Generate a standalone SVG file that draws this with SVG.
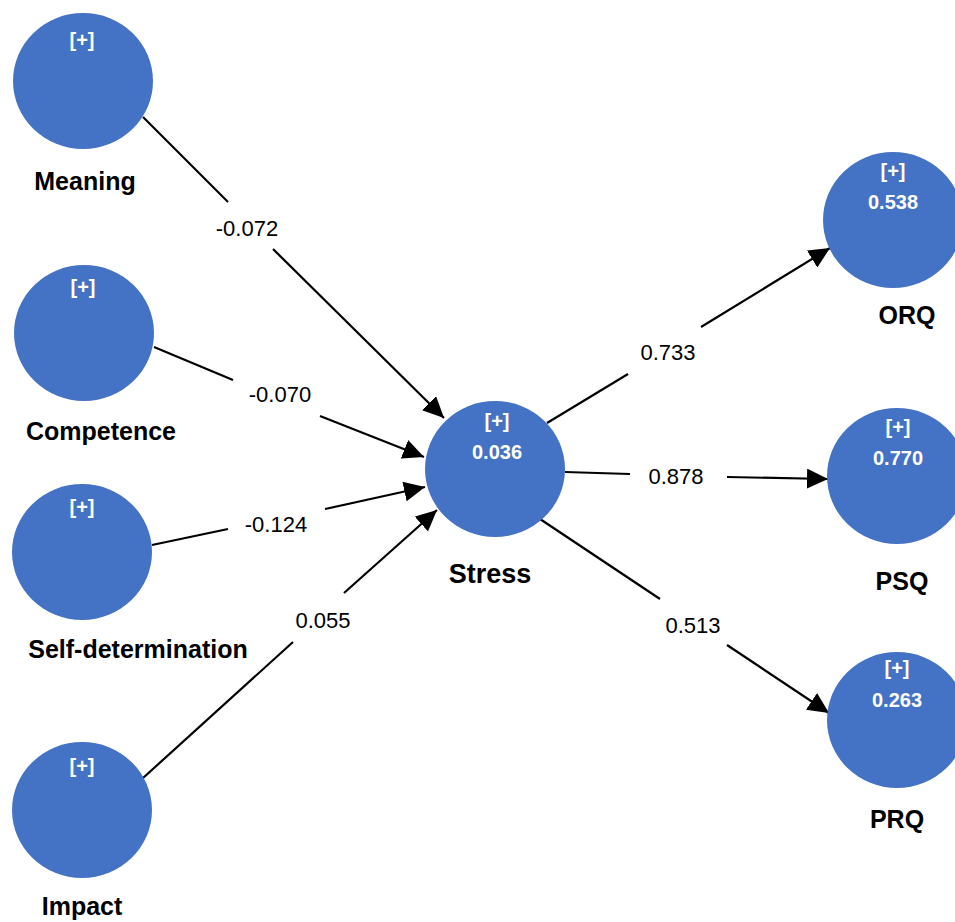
<svg xmlns="http://www.w3.org/2000/svg" width="955" height="922" viewBox="0 0 955 922">
  <style>
    .node { fill: #4472C4; }
    .lbl { font-family: "Liberation Sans", Arial, sans-serif; font-weight: bold; font-size: 25px; fill: #000; text-anchor: middle; }
    .big { font-size: 27px; }
    .in { font-family: "Liberation Sans", Arial, sans-serif; font-weight: bold; font-size: 20px; fill: #fff; text-anchor: middle; }
    .edge { stroke: #000; stroke-width: 2.2; fill: none; }
    .w { font-family: "Liberation Sans", Arial, sans-serif; font-size: 22px; fill: #000; text-anchor: middle; }
  </style>
  <defs>
    <marker id="arr" markerUnits="userSpaceOnUse" markerWidth="22" markerHeight="20" refX="21" refY="10" orient="auto">
      <path d="M0,0 L21,10 L0,20 z" fill="#000"/>
    </marker>
  </defs>
  <rect width="955" height="922" fill="#fff"/>

  <g id="connectors">
    <line class="edge" x1="143" y1="117" x2="228" y2="202"/>
    <line class="edge" x1="273" y1="249" x2="444" y2="418" marker-end="url(#arr)"/>
    <text class="w" x="247" y="236">-0.072</text>

    <line class="edge" x1="154" y1="347" x2="233" y2="380"/>
    <line class="edge" x1="320" y1="416" x2="424" y2="457" marker-end="url(#arr)"/>
    <text class="w" x="280" y="402">-0.070</text>

    <line class="edge" x1="152" y1="545" x2="228" y2="529"/>
    <line class="edge" x1="325" y1="509" x2="425" y2="487" marker-end="url(#arr)"/>
    <text class="w" x="276" y="532">-0.124</text>

    <line class="edge" x1="143" y1="778" x2="293" y2="642"/>
    <line class="edge" x1="344" y1="593" x2="437" y2="510" marker-end="url(#arr)"/>
    <text class="w" x="323" y="628">0.055</text>

    <line class="edge" x1="547" y1="423" x2="628" y2="374"/>
    <line class="edge" x1="701" y1="327" x2="830" y2="248" marker-end="url(#arr)"/>
    <text class="w" x="668" y="360">0.733</text>

    <line class="edge" x1="565" y1="472" x2="630" y2="474"/>
    <line class="edge" x1="727" y1="477" x2="828" y2="479" marker-end="url(#arr)"/>
    <text class="w" x="676" y="484">0.878</text>

    <line class="edge" x1="540" y1="519" x2="660" y2="599"/>
    <line class="edge" x1="727" y1="645" x2="829" y2="713" marker-end="url(#arr)"/>
    <text class="w" x="693" y="633">0.513</text>
  </g>

  <g id="meaning">
    <ellipse class="node" cx="83" cy="81" rx="70" ry="68"/>
    <text class="in" x="82" y="47">[+]</text>
    <text class="lbl" x="85" y="190">Meaning</text>
  </g>
  <g id="competence">
    <ellipse class="node" cx="84" cy="333" rx="70" ry="68"/>
    <text class="in" x="83" y="294">[+]</text>
    <text class="lbl" x="101" y="440">Competence</text>
  </g>
  <g id="self-determination">
    <ellipse class="node" cx="82" cy="552" rx="70" ry="68"/>
    <text class="in" x="82" y="514">[+]</text>
    <text class="lbl" x="138" y="658">Self-determination</text>
  </g>
  <g id="impact">
    <ellipse class="node" cx="82" cy="810" rx="70" ry="68"/>
    <text class="in" x="82" y="773">[+]</text>
    <text class="lbl" x="82" y="915">Impact</text>
  </g>
  <g id="stress">
    <ellipse class="node" cx="495" cy="469" rx="70" ry="68"/>
    <text class="in" x="497" y="428">[+]</text>
    <text class="in" x="497" y="459">0.036</text>
    <text class="lbl big" x="490" y="583">Stress</text>
  </g>
  <g id="orq">
    <ellipse class="node" cx="893" cy="220" rx="70" ry="68"/>
    <text class="in" x="893" y="178">[+]</text>
    <text class="in" x="893" y="209">0.538</text>
    <text class="lbl" x="907" y="324">ORQ</text>
  </g>
  <g id="psq">
    <ellipse class="node" cx="897" cy="476" rx="70" ry="68"/>
    <text class="in" x="898" y="434">[+]</text>
    <text class="in" x="898" y="465">0.770</text>
    <text class="lbl" x="902" y="590">PSQ</text>
  </g>
  <g id="prq">
    <ellipse class="node" cx="897" cy="720" rx="70" ry="68"/>
    <text class="in" x="897" y="675">[+]</text>
    <text class="in" x="897" y="707">0.263</text>
    <text class="lbl" x="897" y="828">PRQ</text>
  </g>
</svg>
